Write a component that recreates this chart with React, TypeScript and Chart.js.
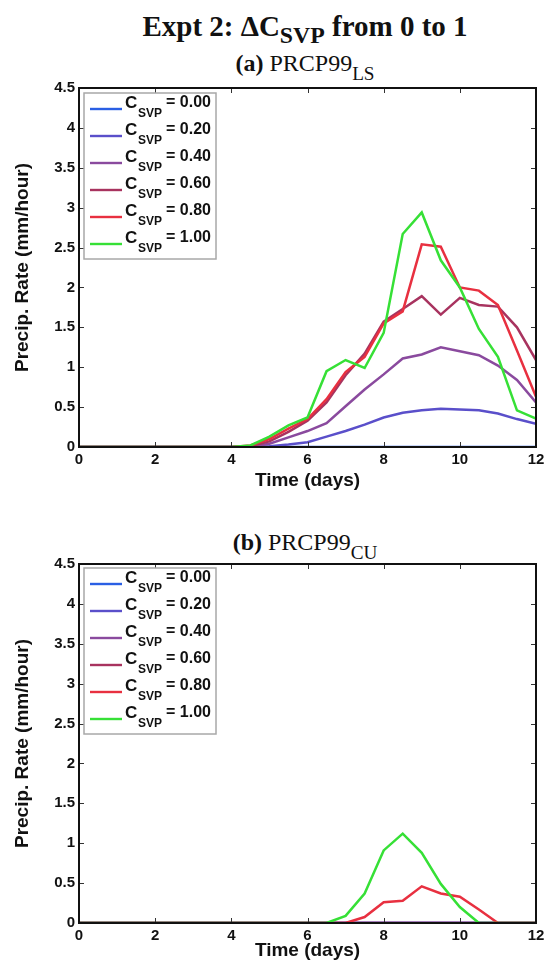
import React, { useEffect, useRef } from 'react';
import { Chart, registerables } from 'chart.js';

Chart.register(...registerables);

// ---------- data ----------
const DAYS = [0, 0.5, 1, 1.5, 2, 2.5, 3, 3.5, 4, 4.5, 5, 5.5, 6, 6.5, 7, 7.5, 8, 8.5, 9, 9.5, 10, 10.5, 11, 11.5, 12];
const CSVP_LABELS = ['0.00', '0.20', '0.40', '0.60', '0.80', '1.00'];
const LINE_COLORS = ['#2a5fe4', '#5a4fca', '#8a4a9e', '#a8335f', '#e83040', '#36e036'];
const X_TICKS = [0, 2, 4, 6, 8, 10, 12];
const Y_TICKS = [0, 0.5, 1, 1.5, 2, 2.5, 3, 3.5, 4, 4.5];

const LS_000 = [0, 0, 0, 0, 0, 0, 0, 0, 0, 0, 0, 0, 0, 0, 0, 0, 0, 0, 0, 0, 0, 0, 0, 0, 0];
const LS_020 = [0, 0, 0, 0, 0, 0, 0, 0, 0, 0, 0.01, 0.03, 0.06, 0.13, 0.2, 0.28, 0.37, 0.43, 0.46, 0.48, 0.47, 0.46, 0.42, 0.35, 0.29];
const LS_040 = [0, 0, 0, 0, 0, 0, 0, 0, 0, 0, 0.04, 0.12, 0.2, 0.3, 0.51, 0.72, 0.91, 1.11, 1.16, 1.25, 1.2, 1.15, 1.02, 0.84, 0.56];
const LS_060 = [0, 0, 0, 0, 0, 0, 0, 0, 0, 0.01, 0.07, 0.19, 0.33, 0.56, 0.9, 1.17, 1.57, 1.73, 1.89, 1.66, 1.87, 1.78, 1.76, 1.5, 1.09];
const LS_080 = [0, 0, 0, 0, 0, 0, 0, 0, 0, 0.02, 0.1, 0.23, 0.35, 0.6, 0.94, 1.13, 1.55, 1.7, 2.54, 2.51, 2.0, 1.96, 1.78, 1.21, 0.63];
const LS_100 = [0, 0, 0, 0, 0, 0, 0, 0, 0, 0.02, 0.13, 0.27, 0.37, 0.95, 1.09, 0.99, 1.43, 2.67, 2.94, 2.34, 2.0, 1.48, 1.13, 0.46, 0.355];

const CU_000 = [0, 0, 0, 0, 0, 0, 0, 0, 0, 0, 0, 0, 0, 0, 0, 0, 0, 0, 0, 0, 0, 0, 0, 0, 0];
const CU_020 = [0, 0, 0, 0, 0, 0, 0, 0, 0, 0, 0, 0, 0, 0, 0, 0, 0, 0, 0, 0, 0, 0, 0, 0, 0];
const CU_040 = [0, 0, 0, 0, 0, 0, 0, 0, 0, 0, 0, 0, 0, 0, 0, 0, 0, 0, 0, 0, 0, 0, 0, 0, 0];
const CU_060 = [0, 0, 0, 0, 0, 0, 0, 0, 0, 0, 0, 0, 0, 0, 0, 0, 0, 0, 0, 0, 0, 0, 0, 0, 0];
const CU_080 = [0, 0, 0, 0, 0, 0, 0, 0, 0, 0, 0, 0, 0, 0, 0, 0.075, 0.26, 0.28, 0.46, 0.37, 0.33, 0.17, 0, 0, 0];
const CU_100 = [0, 0, 0, 0, 0, 0, 0, 0, 0, 0, 0, 0, 0, 0, 0.09, 0.37, 0.91, 1.12, 0.88, 0.49, 0.2, 0, 0, 0, 0];

const LS_SERIES = [LS_000, LS_020, LS_040, LS_060, LS_080, LS_100];
const CU_SERIES = [CU_000, CU_020, CU_040, CU_060, CU_080, CU_100];

const SANS = '"Liberation Sans", Arial, sans-serif';
const SERIF = '"Liberation Serif", "Times New Roman", serif';

type PanelProps = {
  top: number;
  height: number;
  xAxisHeight: number;
  xTitlePad: number;
  legendTop: number;
  series: number[][];
};

function makeFramePlugin(legendTop: number) {
  return {
    id: 'frameAndLegend',
    afterDatasetsDraw(chart: any) {
      const { ctx, chartArea } = chart;
      const { left, top, right, bottom } = chartArea;
      const xs = chart.scales.x;
      const ys = chart.scales.y;
      ctx.save();
      // inward ticks
      ctx.strokeStyle = '#333';
      ctx.lineWidth = 1;
      const tl = 5;
      ctx.beginPath();
      X_TICKS.forEach((v) => {
        const px = Math.round(xs.getPixelForValue(v)) + 0.5;
        ctx.moveTo(px, bottom);
        ctx.lineTo(px, bottom - tl);
        ctx.moveTo(px, top);
        ctx.lineTo(px, top + tl);
      });
      Y_TICKS.forEach((v) => {
        const py = Math.round(ys.getPixelForValue(v)) + 0.5;
        ctx.moveTo(left, py);
        ctx.lineTo(left + tl, py);
        ctx.moveTo(right, py);
        ctx.lineTo(right - tl, py);
      });
      ctx.stroke();
      // frame
      ctx.strokeStyle = '#111';
      ctx.lineWidth = 2;
      ctx.strokeRect(left, top, right - left, bottom - top);

      // legend
      const bx = left + 5;
      const by = top + legendTop;
      const bw = 132;
      const bh = 166;
      ctx.fillStyle = '#fff';
      ctx.fillRect(bx, by, bw, bh);
      ctx.strokeStyle = '#a8a8a8';
      ctx.lineWidth = 1.5;
      ctx.strokeRect(bx, by, bw, bh);
      CSVP_LABELS.forEach((lab, i) => {
        const ly = by + 16 + i * 27;
        ctx.strokeStyle = LINE_COLORS[i];
        ctx.lineWidth = 2.4;
        ctx.beginPath();
        ctx.moveTo(left + 11, ly);
        ctx.lineTo(left + 43, ly);
        ctx.stroke();
        ctx.fillStyle = '#111';
        ctx.textBaseline = 'alphabetic';
        ctx.textAlign = 'left';
        ctx.font = `bold 17px ${SANS}`;
        ctx.fillText('C', left + 46, ly - 1);
        ctx.font = `bold 12px ${SANS}`;
        ctx.fillText('SVP', left + 59, ly + 8);
        ctx.font = `bold 16px ${SANS}`;
        ctx.fillText('= ' + lab, left + 87, ly - 2);
      });
      ctx.restore();
    },
  };
}

function Panel({ top, height, xAxisHeight, xTitlePad, legendTop, series }: PanelProps) {
  const ref = useRef<HTMLCanvasElement | null>(null);
  useEffect(() => {
    if (!ref.current) return;
    const datasets = series.map((vals, i) => ({
      label: 'C_SVP = ' + CSVP_LABELS[i],
      data: DAYS.map((d, j) => ({ x: d, y: vals[j] })),
      borderColor: LINE_COLORS[i],
      backgroundColor: LINE_COLORS[i],
      borderWidth: 2.5,
      pointRadius: 0,
      tension: 0,
      fill: false,
      order: series.length - i,
    }));
    const chart = new Chart(ref.current, {
      type: 'line',
      data: { datasets },
      options: {
        animation: false,
        responsive: false,
        maintainAspectRatio: false,
        layout: { padding: { top: 18, right: 18, left: 0, bottom: 0 } },
        plugins: { legend: { display: false }, tooltip: { enabled: false }, title: { display: false } },
        scales: {
          x: {
            type: 'linear',
            min: 0,
            max: 12,
            ticks: {
              stepSize: 2, color: '#111', font: { family: SANS, size: 15, weight: 'bold' }, padding: 4, maxRotation: 0,
              callback: (v: any) => String(v),
            },
            grid: { display: false, drawTicks: false },
            border: { display: false },
            title: {
              display: true,
              text: 'Time (days)',
              color: '#111',
              font: { family: SANS, size: 19, weight: 'bold' },
              padding: { top: 0, bottom: xTitlePad },
            },
            afterFit: (s: any) => {
              s.height = xAxisHeight;
            },
          },
          y: {
            type: 'linear',
            min: 0,
            max: 4.5,
            ticks: {
              stepSize: 0.5, color: '#111', font: { family: SANS, size: 15, weight: 'bold' }, padding: 4,
              callback: (v: any) => String(v),
            },
            grid: { display: false, drawTicks: false },
            border: { display: false },
            title: {
              display: true,
              text: 'Precip. Rate (mm/hour)',
              color: '#111',
              font: { family: SANS, size: 19, weight: 'bold' },
              padding: { top: 11, bottom: 0 },
            },
            afterFit: (s: any) => {
              s.width = 79;
            },
          },
        },
      } as any,
      plugins: [makeFramePlugin(legendTop)],
    });
    return () => chart.destroy();
  }, []);
  return (
    <canvas
      ref={ref}
      width={554}
      height={height}
      style={{ position: 'absolute', left: 0, top, width: 554, height, display: 'block' }}
    />
  );
}

const subStyle = (size: string, shift: string): React.CSSProperties => ({
  fontSize: size,
  position: 'relative',
  top: shift,
});

export default function App() {
  return (
    <div style={{ position: 'absolute', left: 0, top: 0, width: 554, height: 973, background: '#fff', overflow: 'hidden' }}>
      <div
        style={{
          position: 'absolute', left: 0, width: 610, top: 12, textAlign: 'center',
          font: `bold 29px ${SERIF}`, lineHeight: '29px', whiteSpace: 'nowrap', color: '#111',
        }}
      >
        Expt 2: ΔC<span style={subStyle('0.82em', '0.3em')}>SVP</span> from 0 to 1
      </div>
      <div
        style={{
          position: 'absolute', left: 0, width: 610, top: 51, textAlign: 'center',
          font: `24px ${SERIF}`, lineHeight: '24px', whiteSpace: 'nowrap', color: '#111',
        }}
      >
        <b>(a)</b> PRCP99<span style={subStyle('0.8em', '0.45em')}>LS</span>
      </div>
      <div
        style={{
          position: 'absolute', left: 0, width: 610, top: 530, textAlign: 'center',
          font: `24px ${SERIF}`, lineHeight: '24px', whiteSpace: 'nowrap', color: '#111',
        }}
      >
        <b>(b)</b> PRCP99<span style={subStyle('0.8em', '0.45em')}>CU</span>
      </div>
      <Panel top={70} height={430} xAxisHeight={53} xTitlePad={7.5} legendTop={5} series={LS_SERIES} />
      <Panel top={546} height={427} xAxisHeight={50} xTitlePad={10.5} legendTop={4} series={CU_SERIES} />
    </div>
  );
}
